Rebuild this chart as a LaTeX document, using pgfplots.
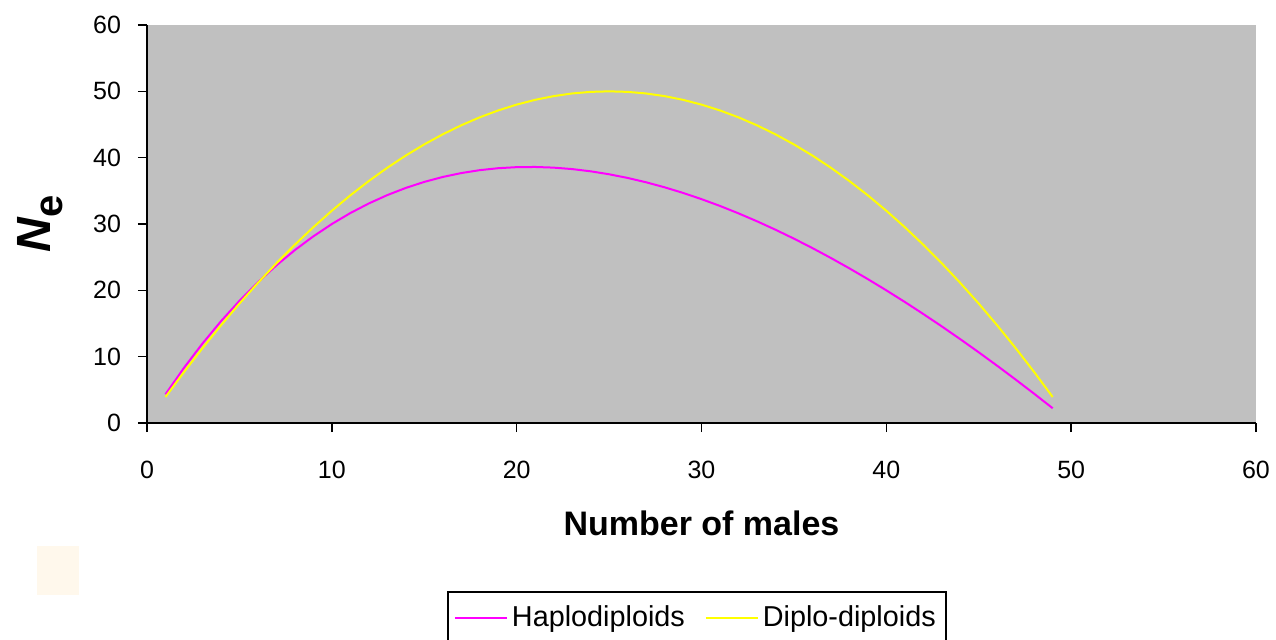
\documentclass[border=0pt]{standalone}
\usepackage{pgfplots}
\pgfplotsset{compat=1.18}
\usepackage{fontspec}
\setmainfont{Liberation Sans}

\definecolor{plotgray}{HTML}{C0C0C0}
\definecolor{haplo}{HTML}{FF00FF}
\definecolor{diplo}{HTML}{FFFF00}
\definecolor{cream}{HTML}{FFF8EC}

\begin{document}
\begin{tikzpicture}
\useasboundingbox (-73.5pt,-108pt) rectangle (564.5pt,211.5pt);
\fill[cream] (-55pt,-61.5pt) rectangle (-34pt,-86pt);
\begin{axis}[
  at={(0pt,0pt)}, anchor=origin,
  scale only axis,
  width=554.5pt, height=199pt,
  xmin=0, xmax=60, ymin=0, ymax=60,
  xtick={0,10,...,60}, ytick={0,10,...,60},
  axis background/.style={fill=plotgray},
  axis x line*=bottom, axis y line*=left,
  axis line style={line width=1pt, black, -},
  tick style={line width=0.8pt, black},
  tick align=outside,
  major tick length=4.5pt,
  minor tick num=0,
  /pgf/number format/assume math mode=true,
  ticklabel style={font=\fontsize{12.5}{14}\selectfont},
  xticklabel style={yshift=-11pt},
  yticklabel style={xshift=-5pt},
  xlabel={\textbf{Number of males}},
  xlabel style={font=\fontsize{17}{20}\selectfont, at={(axis description cs:0.5,-0.2513)}, anchor=center},
  ylabel={\textbf{\textit{N}\raisebox{-0.25em}{\fontsize{20}{22}\selectfont e}}},
  ylabel style={font=\fontsize{24}{28}\selectfont, at={(axis description cs:-0.0965,0.5)}, anchor=center},
  legend columns=2,
  legend style={
    at={(axis description cs:0.2705,-0.4221)}, anchor=north west,
    draw=black, line width=1pt, fill=white,
    font=\fontsize{14.4}{17}\selectfont,
    inner xsep=3pt, inner ysep=5pt,
    /tikz/every even column/.append style={column sep=8pt},
  },
  legend image code/.code={\draw[#1, line width=1pt] (0pt,0pt) -- (26pt,0pt);},
  clip=false,
]
\addplot[haplo, line width=1pt] coordinates {
(1,4.324) (2,8.308) (3,11.972) (4,15.333) (5,18.409) (6,21.214) (7,23.763)
(8,26.069) (9,28.144) (10,30.000) (11,31.648) (12,33.097) (13,34.357)
(14,35.438) (15,36.346) (16,37.091) (17,37.679) (18,38.118) (19,38.413)
(20,38.571) (21,38.599) (22,38.500) (23,38.281) (24,37.946) (25,37.500)
(26,36.947) (27,36.292) (28,35.538) (29,34.690) (30,33.750) (31,32.722)
(32,31.610) (33,30.416) (34,29.143) (35,27.794) (36,26.372) (37,24.879)
(38,23.318) (39,21.691) (40,20.000) (41,18.247) (42,16.435) (43,14.565)
(44,12.638) (45,10.658) (46,8.625) (47,6.541) (48,4.408) (49,2.227)
};
\addlegendentry{Haplodiploids}
\addplot[diplo, line width=1pt] coordinates {
(1,3.92) (2,7.68) (3,11.28) (4,14.72) (5,18.00) (6,21.12) (7,24.08)
(8,26.88) (9,29.52) (10,32.00) (11,34.32) (12,36.48) (13,38.48)
(14,40.32) (15,42.00) (16,43.52) (17,44.88) (18,46.08) (19,47.12)
(20,48.00) (21,48.72) (22,49.28) (23,49.68) (24,49.92) (25,50.00)
(26,49.92) (27,49.68) (28,49.28) (29,48.72) (30,48.00) (31,47.12)
(32,46.08) (33,44.88) (34,43.52) (35,42.00) (36,40.32) (37,38.48)
(38,36.48) (39,34.32) (40,32.00) (41,29.52) (42,26.88) (43,24.08)
(44,21.12) (45,18.00) (46,14.72) (47,11.28) (48,7.68) (49,3.92)
};
\addlegendentry{Diplo-diploids}
\end{axis}
\end{tikzpicture}
\end{document}
